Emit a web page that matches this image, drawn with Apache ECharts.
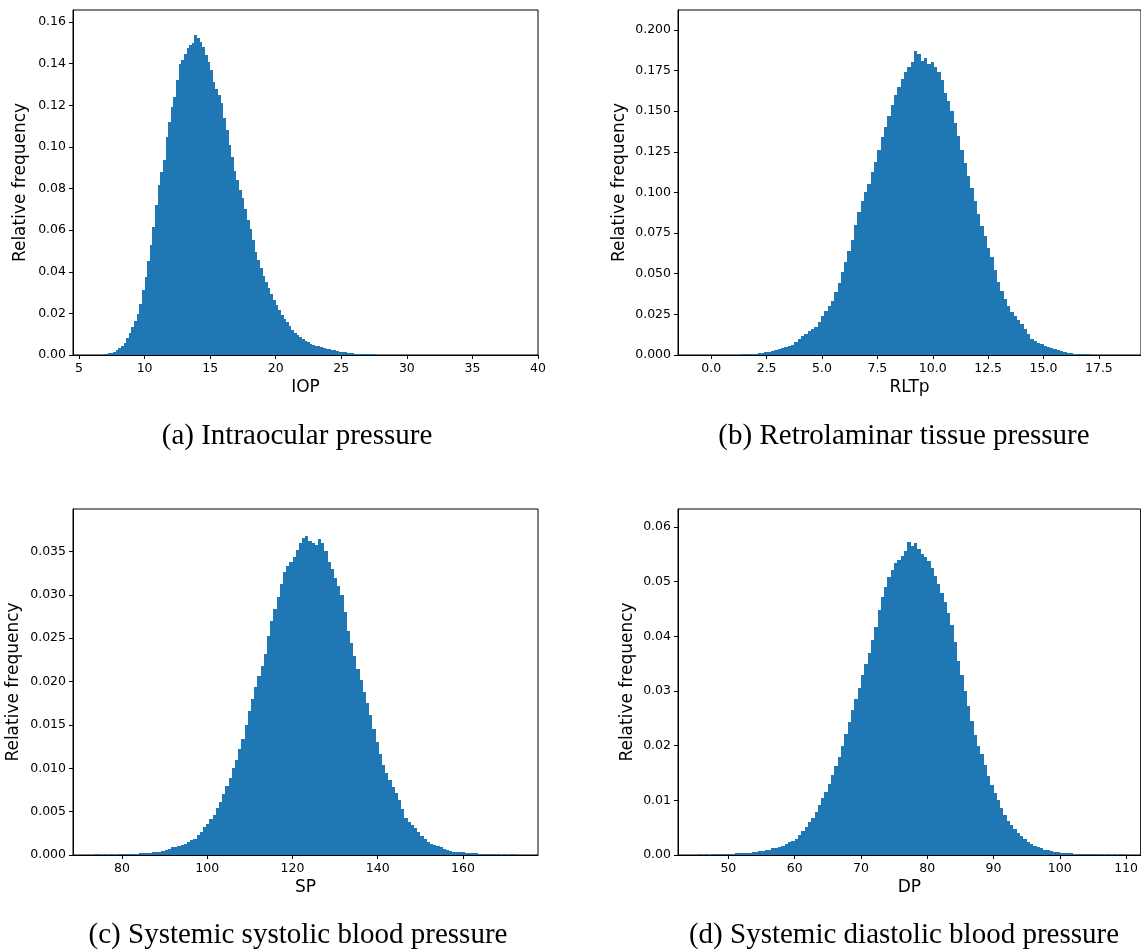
<!DOCTYPE html>
<html><head><meta charset="utf-8">
<script src="https://cdn.jsdelivr.net/npm/echarts@6/dist/echarts.min.js"></script>
<style>html,body{margin:0;padding:0;background:#fff}#c{width:1141px;height:951px}</style>
</head><body><div id="c"></div>
<script>
// ---------- DATA ----------
// IOP histogram: bins start at 6.2, width 0.2
const iopStart = 6.2, iopStep = 0.2;
const iopFreq = [
.0001,.0001,.0002,.0003,.0005,.0008,.0012,.0016,.0022,.0032,
.0042,.0056,.0080,.0106,.0135,.0165,.0195,.0245,.0310,.0375,
.0450,.0530,.0615,.0720,.0815,.0880,.0935,.1050,.1120,.1190,
.1240,.1320,.1400,.1420,.1445,.1475,.1490,.1500,.1540,.1525,
.1505,.1480,.1440,.1410,.1370,.1310,.1280,.1250,.1210,.1140,
.1080,.1010,.0950,.0885,.0840,.0795,.0755,.0700,.0650,.0605,
.0555,.0495,.0455,.0420,.0382,.0350,.0322,.0294,.0263,.0238,
.0214,.0191,.0174,.0157,.0140,.0121,.0108,.0097,.0086,.0077,
.0068,.0061,.0055,.0049,.0045,.0041,.0037,.0033,.0029,.0027,
.0024,.0022,.0019,.0016,.0014,.0013,.0011,.0010,.0008,.0007,
.0006,.0006,.0005,.0005,.0004,.0003,.0003,.0002,.0002,.0002,
.0001];
// RLTp histogram: bins start at -0.6, width 0.15
const rltStart = -0.6, rltStep = 0.15;
const rltFreq = [
.0001,0,0,.0001,0,.0001,0,.0001,.0001,.0001,
.0002,.0001,.0003,.0004,.0005,.0005,.0007,.0009,.0011,.0014,
.0016,.0020,.0025,.0029,.0034,.0040,.0047,.0055,.0064,.0078,
.0098,.0115,.0130,.0145,.0158,.0172,.0200,.0238,.0268,.0300,
.0335,.0385,.0440,.0510,.0570,.0640,.0705,.0800,.0880,.0950,
.1005,.1055,.1125,.1190,.1260,.1340,.1400,.1470,.1540,.1600,
.1650,.1700,.1740,.1770,.1800,.1870,.1850,.1810,.1830,.1790,
.1800,.1770,.1740,.1690,.1610,.1560,.1500,.1430,.1350,.1260,
.1180,.1100,.1030,.0950,.0870,.0795,.0730,.0660,.0600,.0520,
.0450,.0395,.0345,.0300,.0262,.0240,.0215,.0190,.0160,.0130,
.0100,.0088,.0076,.0068,.0058,.0050,.0042,.0035,.0030,.0025,
.0020,.0015,.0012,.0009,.0007,.0005,.0004,.0004,.0003,.0002,
.0002,.0001,.0001,.0001,.0001,0,.0001];
// SP histogram: bins start at 73.5, width 0.75
const spStart = 73.5, spStep = 0.75;
const spFreq = [
.0001,.0001,0,.0001,0,.0001,0,.0001,.0001,.0001,
.0001,.0001,.0001,.0001,.0002,.0002,.0002,.0002,.0003,.0004,
.0004,.0005,.0006,.0007,.0009,.0009,.0010,.0012,.0013,.0015,
.0017,.0019,.0023,.0027,.0032,.0036,.0041,.0046,.0054,.0061,
.0070,.0080,.0089,.0100,.0110,.0122,.0134,.0150,.0166,.0180,
.0194,.0206,.0218,.0232,.0252,.0270,.0284,.0298,.0313,.0326,
.0333,.0338,.0344,.0352,.0360,.0366,.0368,.0362,.0360,.0358,
.0364,.0360,.0350,.0338,.0330,.0320,.0310,.0300,.0280,.0258,
.0245,.0230,.0215,.0202,.0188,.0175,.0161,.0145,.0130,.0116,
.0104,.0094,.0086,.0078,.0071,.0063,.0053,.0043,.0038,.0035,
.0031,.0026,.0022,.0018,.0015,.0013,.0012,.0010,.0009,.0007,
.0006,.0005,.0004,.0004,.0003,.0003,.0002,.0002,.0002,.0002,
.0001,.0001,.0001,.0001,.0001,.0001,.0001,0,.0001,0,
.0001,.0001];
// DP histogram: bins start at 45.5, width 0.5
const dpStart = 45.5, dpStep = 0.5;
const dpFreq = [
.0001,0,.0001,0,.0001,.0001,.0001,.0001,.0001,.0001,
.0002,.0003,.0003,.0003,.0004,.0004,.0005,.0006,.0007,.0008,
.0009,.0010,.0012,.0013,.0015,.0017,.0020,.0024,.0026,.0030,
.0037,.0044,.0052,.0060,.0068,.0078,.0092,.0104,.0116,.0130,
.0146,.0162,.0180,.0200,.0222,.0244,.0266,.0286,.0306,.0330,
.0350,.0370,.0393,.0418,.0448,.0472,.0490,.0508,.0522,.0534,
.0540,.0547,.0556,.0572,.0566,.0570,.0560,.0550,.0545,.0538,
.0525,.0510,.0495,.0480,.0462,.0442,.0420,.0390,.0355,.0330,
.0300,.0272,.0245,.0220,.0200,.0185,.0165,.0145,.0128,.0113,
.0100,.0086,.0073,.0063,.0055,.0047,.0041,.0035,.0029,.0024,
.0020,.0017,.0014,.0012,.0010,.0009,.0007,.0006,.0005,.0004,
.0004,.0003,.0003,.0002,.0002,.0002,.0001,.0001,.0001,.0001,
.0001,.0001,0,.0001,0,.0001,0,.0001];

// tick labels
const iopXTicks = [5,10,15,20,25,30,35,40];
const iopYTicks = [0,0.02,0.04,0.06,0.08,0.10,0.12,0.14,0.16];
const rltXTicks = [0,2.5,5,7.5,10,12.5,15,17.5];
const rltYTicks = [0,0.025,0.05,0.075,0.1,0.125,0.15,0.175,0.2];
const spXTicks = [80,100,120,140,160];
const spYTicks = [0,0.005,0.01,0.015,0.02,0.025,0.03,0.035];
const dpXTicks = [50,60,70,80,90,100,110];
const dpYTicks = [0,0.01,0.02,0.03,0.04,0.05,0.06];

const axisNames = ['IOP','RLTp','SP','DP'];
const yAxisName = 'Relative frequency';
const captions = ['(a) Intraocular pressure','(b) Retrolaminar tissue pressure',
  '(c) Systemic systolic blood pressure','(d) Systemic diastolic blood pressure'];

// ---------- BUILD ----------
function bins(start, step, freq){ return freq.map((f,i)=>[start+i*step, start+(i+1)*step, f]); }

const panels = [
  {data: bins(iopStart,iopStep,iopFreq), xt: iopXTicks, yt: iopYTicks, xmin:4.54, xmax:40.0, ymax:0.1658, xd:0, yd:2,
   grid:{left:73, top:10, width:465, height:345}, yGap:44, cap:[297,436]},
  {data: bins(rltStart,rltStep,rltFreq), xt: rltXTicks, yt: rltYTicks, xmin:-1.5, xmax:19.4, ymax:0.2123, xd:1, yd:3,
   grid:{left:678, top:10, width:466, height:345}, yGap:50, cap:[904,436]},
  {data: bins(spStart,spStep,spFreq), xt: spXTicks, yt: spYTicks, xmin:68.5, xmax:177.6, ymax:0.0399, xd:0, yd:3,
   grid:{left:73, top:509, width:465, height:346}, yGap:51, cap:[298,935]},
  {data: bins(dpStart,dpStep,dpFreq), xt: dpXTicks, yt: dpYTicks, xmin:42.4, xmax:112.2, ymax:0.0633, xd:0, yd:2,
   grid:{left:678, top:509, width:466, height:346}, yGap:42, cap:[904,935]}
];

const BAR = '#1f77b4';
const tickFont = {fontSize:12.5, fontFamily:'DejaVu Sans', color:'#000'};
const nameFont = {fontSize:17, fontFamily:'DejaVu Sans', color:'#000'};

const option = {
  animation:false,
  backgroundColor:'#fff',
  grid: panels.map(p=>Object.assign({show:true, borderColor:'#000', borderWidth:1, backgroundColor:'transparent'}, p.grid)),
  xAxis: panels.map((p,i)=>({
    gridIndex:i, type:'value', min:p.xmin, max:p.xmax, z:5,
    name:axisNames[i], nameLocation:'middle', nameGap:24, nameTextStyle:nameFont,
    axisLine:{show:true, onZero:false, lineStyle:{color:'#000', width:1}},
    axisTick:{show:true, length:4, customValues:p.xt, lineStyle:{color:'#000', width:1}},
    axisLabel:Object.assign({customValues:p.xt, margin:7, formatter:v=>Number(v).toFixed(p.xd)}, tickFont),
    splitLine:{show:false}
  })),
  yAxis: panels.map((p,i)=>({
    gridIndex:i, type:'value', min:0, max:p.ymax, z:5,
    name:yAxisName, nameLocation:'middle', nameGap:p.yGap, nameTextStyle:nameFont,
    axisLine:{show:true, onZero:false, lineStyle:{color:'#000', width:1}},
    axisTick:{show:true, length:4, customValues:p.yt, lineStyle:{color:'#000', width:1}},
    axisLabel:Object.assign({customValues:p.yt, margin:7, formatter:v=>Number(v).toFixed(p.yd)}, tickFont),
    splitLine:{show:false}
  })),
  series: panels.map((p,i)=>({
    type:'custom', xAxisIndex:i, yAxisIndex:i, clip:true, z:2,
    encode:{x:[0,1], y:2},
    data:p.data,
    renderItem:function(params, api){
      const a = api.coord([api.value(0), api.value(2)]);
      const b = api.coord([api.value(1), 0]);
      const x0 = Math.round(a[0]), x1 = Math.round(b[0]);
      const y1 = Math.round(b[1]);
      const y0 = Math.min(Math.round(a[1]), y1);
      return {type:'rect', shape:{x:x0, y:y0, width:x1-x0, height:y1-y0},
        style:{fill:BAR}};
    }
  })),
  graphic: panels.map((p,i)=>({
    type:'text', x:p.cap[0], y:p.cap[1],
    style:{text:captions[i], align:'center', verticalAlign:'middle', textAlign:'center', textVerticalAlign:'middle',
      font:'29px "Liberation Serif", serif', fill:'#000'}
  }))
};

const chart = echarts.init(document.getElementById('c'), null, {renderer:'canvas'});
chart.setOption(option);
</script>
</body></html>
